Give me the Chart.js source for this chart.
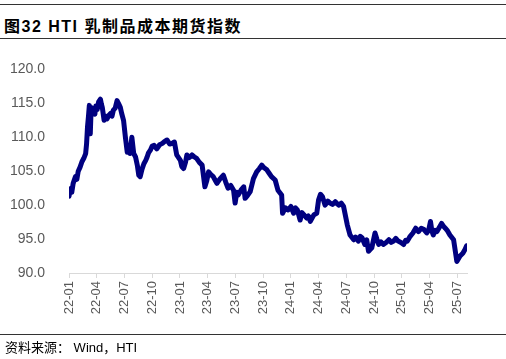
<!DOCTYPE html>
<html>
<head>
<meta charset="utf-8">
<script src="https://cdn.jsdelivr.net/npm/chart.js@4/dist/chart.umd.min.js"></script>
<style>
  body { margin: 0; background: #fff; width: 506px; height: 359px; position: relative; overflow: hidden; }
  .rule { position: absolute; left: 0; width: 506px; height: 0; border-top: 1.5px solid #333; }
  #title { position: absolute; left: 4px; top: 13px; font: bold 16px "Liberation Sans", "Noto Sans CJK SC", sans-serif; letter-spacing: 1.5px; color: #000; white-space: nowrap; }
  #source { position: absolute; left: 5px; top: 337px; font: 13px "Liberation Sans", "Noto Sans CJK SC", sans-serif; color: #000; white-space: nowrap; }
  #wrap { position: absolute; left: 0; top: 45px; width: 506px; height: 290px; }
</style>
</head>
<body>
<div class="rule" style="top:4px"></div>
<div id="title">图32 HTI 乳制品成本期货指数</div>
<div class="rule" style="top:38px"></div>
<div id="wrap"><canvas id="chart"></canvas></div>
<div class="rule" style="top:334px"></div>
<div id="source">资料来源：&nbsp;Wind，HTI</div>
<script>
// months since 2022-01 and index level
const monthIdx = [
  0.0, 0.15, 0.3, 0.45, 0.7, 0.85, 1.0, 1.2, 1.4, 1.6, 1.8, 1.9, 2.0, 2.1, 2.2, 2.3, 2.4, 2.55, 2.65, 2.8, 2.9, 3.05, 3.2, 3.4, 3.5, 3.6, 3.8, 3.95, 4.1, 4.3, 4.5, 4.65, 4.8,
  5.0, 5.2, 5.35, 5.55, 5.7, 5.9, 6.1, 6.3, 6.45, 6.6, 6.8, 7.0, 7.2, 7.4, 7.55, 7.7, 7.9, 8.1, 8.3, 8.45, 8.6, 8.8, 9.0, 9.2, 9.5, 9.8, 10.1, 10.35, 10.6, 10.9, 11.15, 11.4,
  11.65, 11.85, 12.05, 12.2, 12.4, 12.6, 12.75, 13.0, 13.3, 13.55, 13.8, 14.1, 14.4, 14.7, 14.9, 15.1, 15.35, 15.6, 15.8, 16.0, 16.35, 16.7, 16.95, 17.2, 17.5, 17.8, 17.97, 18.15, 18.3, 18.6, 18.9, 19.05, 19.3, 19.6, 19.95,
  20.3, 20.6, 20.85, 21.1, 21.4, 21.65, 21.9, 22.3, 22.6, 23.0, 23.1, 23.4, 23.7, 24.0, 24.3, 24.5, 24.7, 25.0, 25.2, 25.4, 25.7, 25.9, 26.1, 26.5, 26.8, 27.0, 27.2, 27.4,
  27.7, 28.0, 28.25, 28.5, 28.8, 29.0, 29.2, 29.45, 29.7, 30.1, 30.4, 30.8, 31.0, 31.3, 31.5, 31.7, 32.0, 32.2, 32.4, 32.75, 33.1, 33.3, 33.5, 33.75, 34.0, 34.3, 34.6, 34.85, 35.1, 35.35, 35.6, 35.9, 36.2,
  36.4, 36.6, 36.9, 37.2, 37.5, 37.8, 38.1, 38.4, 38.7, 38.9, 39.1, 39.25, 39.4, 39.6, 39.8, 40.05, 40.3, 40.5, 40.7, 40.95, 41.2, 41.6, 41.95, 42.3, 42.6, 42.85, 43.0
];
const hti = [
  101.3, 102.4, 101.9, 103.2, 104.2, 103.8, 105.0, 105.6, 106.4, 106.9, 107.6, 109.0, 111.5, 113.0, 114.7, 110.5, 114.4, 113.6, 114.0, 113.4, 114.6, 114.1, 115.2, 115.6, 114.9, 114.4, 112.5, 113.1, 112.7, 113.2, 113.5, 113.1, 114.0,
  114.3, 115.4, 115.0, 114.4, 113.5, 112.5, 110.0, 107.8, 108.6, 107.6, 110.0, 107.6, 107.1, 105.8, 104.4, 104.2, 105.3, 106.1, 106.6, 107.1, 107.7, 108.1, 108.7, 108.8, 108.3, 108.9, 109.1, 109.4, 109.6, 109.0, 109.1, 109.3,
  107.4, 107.0, 106.6, 105.7, 105.4, 106.3, 107.4, 107.0, 107.4, 107.1, 106.9, 106.3, 105.9, 102.7, 103.6, 104.9, 104.5, 104.2, 103.7, 103.2, 103.9, 104.4, 103.4, 102.5, 102.9, 102.2, 100.3, 101.9, 101.5, 102.2, 102.7, 101.0, 101.4, 102.0, 103.9,
  104.9, 105.4, 105.9, 105.5, 105.2, 104.7, 104.2, 103.7, 102.2, 101.5, 98.8, 99.6, 99.3, 99.8, 98.8, 99.6, 99.3, 97.8, 98.9, 98.6, 98.1, 98.4, 97.6, 98.6, 98.8, 100.8, 101.6, 101.3,
  100.0, 100.6, 100.3, 100.1, 100.5, 100.2, 100.0, 100.3, 99.8, 97.1, 95.6, 94.9, 95.3, 94.7, 95.4, 95.2, 94.2, 94.9, 93.2, 93.7, 95.9, 95.0, 94.2, 94.6, 94.2, 94.5, 94.9, 94.5, 94.7, 95.1, 94.7, 94.5, 94.2,
  94.8, 94.7, 95.4, 95.9, 96.6, 96.1, 96.6, 96.4, 95.9, 96.3, 97.6, 96.2, 95.6, 96.3, 96.1, 96.7, 97.3, 96.9, 96.6, 96.2, 95.6, 94.9, 91.7, 92.5, 92.9, 93.5, 94.0
];
const yTicks = [90, 95, 100, 105, 110, 115, 120];

const points = monthIdx.map((m, i) => ({ x: m, y: hti[i] }));

function monthLabel(v) {
  const yy = 22 + Math.floor(v / 12);
  const mm = (v % 12) + 1;
  return yy + '-' + (mm < 10 ? '0' + mm : mm);
}

const ctx = document.getElementById('chart').getContext('2d');
new Chart(ctx, {
  type: 'line',
  data: {
    datasets: [{
      data: points,
      borderColor: '#000080',
      borderWidth: 5,
      pointRadius: 0,
      tension: 0,
      borderJoinStyle: 'round',
      borderCapStyle: 'round'
    }]
  },
  options: {
    responsive: true,
    maintainAspectRatio: false,
    animation: false,
    layout: { padding: { top: 22, right: 39, left: 0, bottom: 0 } },
    plugins: { legend: { display: false }, tooltip: { enabled: false } },
    scales: {
      x: {
        type: 'linear',
        min: 0,
        max: 43.05,
        afterFit: (s) => { s.height = 62; },
        border: { color: '#d9d9d9', width: 1 },
        grid: { drawOnChartArea: false, drawTicks: true, tickLength: 5, color: '#d9d9d9' },
        ticks: {
          stepSize: 3,
          includeBounds: false,
          autoSkip: false,
          minRotation: 90,
          maxRotation: 90,
          padding: 3,
          color: '#595959',
          font: { family: '"Liberation Sans", Arial, sans-serif', size: 13 },
          callback: (v) => monthLabel(v)
        }
      },
      y: {
        min: yTicks[0],
        max: yTicks[yTicks.length - 1],
        afterFit: (s) => { s.width = 69; },
        border: { display: false },
        grid: { display: false },
        ticks: {
          stepSize: 5,
          padding: 16,
          color: '#595959',
          font: { family: '"Liberation Sans", Arial, sans-serif', size: 14 },
          callback: (v) => v.toFixed(1)
        }
      }
    }
  }
});
</script>
</body>
</html>
